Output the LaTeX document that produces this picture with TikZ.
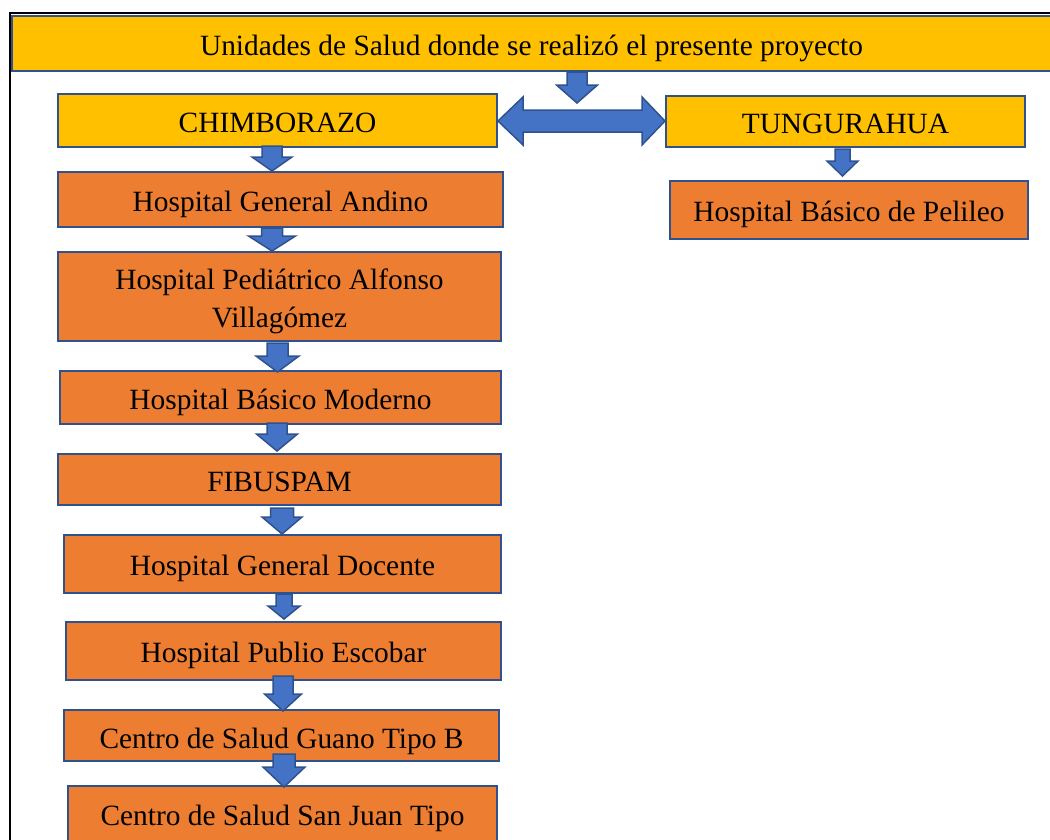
\documentclass[tikz,border=0pt]{standalone}
\usepackage{fontspec}
\setmainfont{Liberation Serif}
\usetikzlibrary{calc}
\definecolor{gold}{HTML}{FFC000}
\definecolor{orng}{HTML}{ED7D31}
\definecolor{edge}{HTML}{2F528F}
\definecolor{arrfill}{HTML}{4472C4}
\tikzset{
  box/.style={draw=edge, line width=2pt, inner sep=0pt, text=black,
    font=\fontsize{29.4}{38}\selectfont, align=center,
    text height=27pt, text depth=4pt},
  yel/.style={box, fill=gold},
  org/.style={box, fill=orng},
  blk/.style={draw=edge, fill=arrfill, line width=1.5pt, line join=miter},
  frameline/.style={draw=black, line width=2.5pt},
}
% #1 from, #2 to, #3 x centre, #4 half shaft, #5 half head, #6 head length,
% #7 start shift (down), #8 tip shift (down)
\newcommand\blockarrow[8]{%
  \draw[blk] let \p1=(#1), \p2=(#2) in
    ({(#3-#4)*1pt},{\y1-(#7)*1pt}) -- ({(#3+#4)*1pt},{\y1-(#7)*1pt})
    -- ({(#3+#4)*1pt},{\y2-(#8)*1pt+(#6)*1pt})
    -- ({(#3+#5)*1pt},{\y2-(#8)*1pt+(#6)*1pt})
    -- ({(#3)*1pt},{\y2-(#8)*1pt})
    -- ({(#3-#5)*1pt},{\y2-(#8)*1pt+(#6)*1pt})
    -- ({(#3-#4)*1pt},{\y2-(#8)*1pt+(#6)*1pt}) -- cycle;}
\begin{document}
\begin{tikzpicture}[x=1pt,y=-1pt]
\useasboundingbox (0,0) rectangle (1050,839);
\clip (0,0) rectangle (1050,839);
\fill[white] (0,0) rectangle (1050,839);
\draw[frameline] (10,845) -- (10,13) -- (1060,13);

\node[yel, minimum width=1039, minimum height=55] (title) at (531.5,43.5)
  {Unidades de Salud donde se realizó el presente proyecto};
\node[yel, minimum width=439, minimum height=53] (chim) at (277.5,120.5) {CHIMBORAZO};
\node[yel, minimum width=359, minimum height=51, text height=28pt] (tung) at (845.5,121.5) {TUNGURAHUA};
\node[org, minimum width=358, minimum height=58] (pelileo) at (849,210) {Hospital Básico de Pelileo};
\node[org, minimum width=445, minimum height=55] (andino) at (280.5,199.5) {Hospital General Andino};
\node[org, minimum width=443, minimum height=89, text height=65pt, text depth=4pt] (ped) at (279.5,296.5)
  {Hospital Pediátrico Alfonso\\Villagómez};
\node[org, minimum width=441, minimum height=53] (moderno) at (280.5,397.5) {Hospital Básico Moderno};
\node[org, minimum width=443, minimum height=51] (fib) at (279.5,479.5) {FIBUSPAM};
\node[org, minimum width=437, minimum height=58] (docente) at (282.5,564) {Hospital General Docente};
\node[org, minimum width=435, minimum height=58] (publio) at (283.5,651) {Hospital Publio Escobar};
\node[org, minimum width=435, minimum height=51, text height=30pt] (guano) at (281.5,735.5) {Centro de Salud Guano Tipo B};
\node[org, minimum width=429, minimum height=56] (sanjuan) at (282.5,814) {Centro de Salud San Juan Tipo};

\coordinate (tiptitle) at (577,103);
\blockarrow{title.south}{tiptitle}{577}{10}{20.5}{18}{0}{0}

% double arrow
\draw[blk] let \p1=(chim.east), \p2=(tung.west), \n1={(\y1+\y2)/2} in
  (\x1,\n1) -- ({\x1+25pt},{\n1+24pt}) -- ({\x1+25pt},{\n1+11pt})
  -- ({\x2-23pt},{\n1+11pt}) -- ({\x2-23pt},{\n1+24pt}) -- (\x2,\n1)
  -- ({\x2-23pt},{\n1-24pt}) -- ({\x2-23pt},{\n1-11pt})
  -- ({\x1+25pt},{\n1-11pt}) -- ({\x1+25pt},{\n1-24pt}) -- cycle;

\blockarrow{chim.south}{andino.north}{272}{10}{20}{14}{-2}{0}
\blockarrow{andino.south}{ped.north}{272}{10.5}{23.5}{15}{0}{0}
\blockarrow{ped.south}{moderno.north}{277.5}{10.5}{21.5}{16}{1}{2}
\blockarrow{moderno.south}{fib.north}{277}{10}{20.5}{17}{-2}{-2}
\blockarrow{fib.south}{docente.north}{282}{11.5}{20}{17}{2}{0}
\blockarrow{docente.south}{publio.north}{284}{8}{16}{13}{0}{-2}
\blockarrow{publio.south}{guano.north}{283}{10}{18.5}{17}{-5}{2}
\blockarrow{guano.south}{sanjuan.north}{284}{11}{21}{20}{-8}{2}
\blockarrow{tung.south}{pelileo.north}{842.5}{7.5}{15.5}{15}{1}{-4}
\end{tikzpicture}
\end{document}
